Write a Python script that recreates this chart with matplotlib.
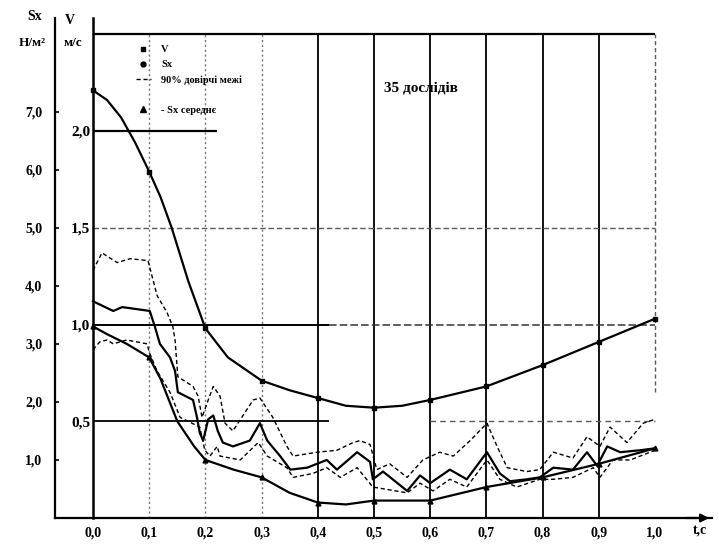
import matplotlib
matplotlib.use("Agg")
import matplotlib.pyplot as plt
from matplotlib.lines import Line2D
from matplotlib.ticker import FuncFormatter

plt.rcParams['font.family'] = ['Liberation Serif', 'DejaVu Serif']
plt.rcParams['font.weight'] = 'bold'

# ---------------- data ----------------
x_ticks = [0.0, 0.1, 0.2, 0.3, 0.4, 0.5, 0.6, 0.7, 0.8, 0.9, 1.0]
v_ticks = [0.5, 1.0, 1.5, 2.0]
sx_ticks = [1.0, 2.0, 3.0, 4.0, 5.0, 6.0, 7.0]
SX_PER_V = 3.336

# V (upper smooth curve)
v_t = [0, 0.025, 0.05, 0.075, 0.1, 0.12, 0.14, 0.17, 0.2, 0.24, 0.3, 0.35, 0.4, 0.45, 0.5, 0.55, 0.6, 0.7, 0.8, 0.9, 1.0]
v_val = [2.21, 2.16, 2.07, 1.94, 1.79, 1.66, 1.50, 1.22, 0.98, 0.83, 0.71, 0.66, 0.62, 0.58, 0.57, 0.58, 0.61, 0.68, 0.79, 0.91, 1.03]
v_marks = [0, 4, 8, 10, 12, 14, 16, 17, 18, 19, 20]

# Sx mean (lower smooth curve)
m_t = [0, 0.025, 0.06, 0.1, 0.12, 0.15, 0.18, 0.2, 0.25, 0.3, 0.35, 0.4, 0.45, 0.5, 0.6, 0.7, 0.8, 0.9, 1.0]
m_val = [0.99, 0.95, 0.90, 0.83, 0.72, 0.50, 0.37, 0.30, 0.25, 0.21, 0.13, 0.08, 0.07, 0.09, 0.09, 0.16, 0.21, 0.28, 0.36]
m_marks = [0, 3, 7, 9, 11, 13, 14, 15, 16, 17, 18]

# Sx (wiggly solid)
s_t = [0, 0.036, 0.052, 0.101, 0.110, 0.119, 0.137, 0.146, 0.151, 0.178, 0.185, 0.190, 0.196,
       0.205, 0.214, 0.222, 0.231, 0.249, 0.279, 0.297, 0.310, 0.333, 0.351, 0.381, 0.416, 0.434,
       0.470, 0.493, 0.498, 0.516, 0.559, 0.582, 0.600, 0.635, 0.665, 0.701, 0.724, 0.742, 0.772,
       0.795, 0.819, 0.854, 0.879, 0.897, 0.915, 0.938, 0.973, 1.0]
s_val = [1.12, 1.07, 1.09, 1.07, 0.99, 0.90, 0.83, 0.76, 0.65, 0.61, 0.52, 0.44, 0.40,
         0.51, 0.53, 0.45, 0.39, 0.37, 0.40, 0.49, 0.40, 0.32, 0.25, 0.26, 0.30, 0.25,
         0.34, 0.29, 0.20, 0.24, 0.14, 0.22, 0.18, 0.25, 0.20, 0.34, 0.23, 0.19, 0.20,
         0.21, 0.26, 0.25, 0.34, 0.27, 0.37, 0.34, 0.35, 0.36]

# 90% confidence bounds (dashed)
up_t = [0.0, 0.016, 0.043, 0.066, 0.098, 0.105, 0.114, 0.132, 0.142, 0.146, 0.151, 0.178, 0.187,
        0.194, 0.205, 0.214, 0.226, 0.235, 0.249, 0.285, 0.297, 0.320, 0.345, 0.356, 0.399, 0.434,
        0.463, 0.475, 0.493, 0.505, 0.528, 0.559, 0.587, 0.617, 0.641, 0.671, 0.701, 0.719, 0.737,
        0.772, 0.795, 0.819, 0.854, 0.879, 0.902, 0.920, 0.950, 0.979, 1.0]
up_val = [1.28, 1.37, 1.32, 1.34, 1.33, 1.25, 1.15, 1.06, 0.99, 0.92, 0.73, 0.68, 0.63,
          0.52, 0.61, 0.68, 0.63, 0.49, 0.45, 0.61, 0.62, 0.52, 0.37, 0.32, 0.34, 0.35,
          0.39, 0.40, 0.38, 0.25, 0.28, 0.21, 0.30, 0.34, 0.32, 0.40, 0.49, 0.37, 0.26,
          0.24, 0.25, 0.34, 0.31, 0.42, 0.37, 0.47, 0.39, 0.49, 0.51]
lo_t = [0.0, 0.012, 0.025, 0.036, 0.06, 0.096, 0.101, 0.114, 0.137, 0.155, 0.190, 0.199, 0.208,
        0.221, 0.226, 0.262, 0.294, 0.310, 0.345, 0.356, 0.391, 0.416, 0.440, 0.470, 0.498, 0.559,
        0.582, 0.605, 0.635, 0.665, 0.701, 0.724, 0.754, 0.795, 0.819, 0.854, 0.890, 0.902, 0.925,
        0.956, 1.0]
lo_val = [0.87, 0.91, 0.92, 0.90, 0.92, 0.90, 0.85, 0.76, 0.65, 0.52, 0.47, 0.35, 0.32,
          0.37, 0.32, 0.30, 0.39, 0.32, 0.26, 0.21, 0.23, 0.26, 0.21, 0.26, 0.16, 0.13,
          0.18, 0.14, 0.20, 0.16, 0.30, 0.20, 0.16, 0.20, 0.20, 0.21, 0.26, 0.21, 0.30,
          0.30, 0.35]

legend_labels = ["V", "Sx", "90% довірчі межі", " ", "- Sx середнє"]
title_text = "35 дослідів"

# ---------------- figure ----------------
W, H = 719, 545
fig = plt.figure(figsize=(W / 100, H / 100), dpi=100)
fig.patch.set_facecolor('white')
ax = fig.add_axes([55 / W, (H - 518) / H, (712 - 55) / W, 500 / H])
ax.set_xlim(-0.0676, 1.1014)
ax.set_ylim(0, 2.584)

comma = FuncFormatter(lambda v, p: f"{v:.1f}".replace('.', ','))

# spines
for s in ['top', 'right']:
    ax.spines[s].set_visible(False)
ax.spines['left'].set_position(('data', 0))
ax.spines['left'].set_linewidth(1.8)
ax.spines['bottom'].set_linewidth(1.6)

ax.set_xticks(x_ticks)
ax.xaxis.set_major_formatter(comma)
ax.tick_params(axis='x', length=0, pad=6, labelsize=10)
ax.set_yticks(v_ticks)
ax.yaxis.set_major_formatter(comma)
ax.tick_params(axis='y', length=0, pad=2, labelsize=11)

sec = ax.secondary_yaxis(0.0, functions=(lambda v: v * SX_PER_V, lambda s: s / SX_PER_V))
sec.set_yticks(sx_ticks)
sec.yaxis.set_major_formatter(comma)
sec.tick_params(axis='y', direction='in', length=3, width=1.2, pad=9, labelsize=10)
sec.spines['left'].set_linewidth(1.6)

# arrow on time axis
ax.annotate('', xy=(1.1014, 0), xytext=(1.05, 0), xycoords='data',
            arrowprops=dict(arrowstyle='-|>', color='black', lw=1.6, mutation_scale=12),
            annotation_clip=False)

# grid
for t in x_ticks[1:]:
    if t in (0.1, 0.2, 0.3):
        ax.vlines(t, 0, 2.5, colors='0.45', linestyles=(0, (1.5, 2)), lw=1.0)
    elif t == 1.0:
        ax.vlines(t, 0.65, 2.5, colors='0.35', linestyles=(0, (3, 2)), lw=1.0)
    else:
        ax.vlines(t, 0, 2.5, colors='black', lw=1.3)
ax.hlines(2.5, 0, 1.0, colors='black', lw=1.6)
ax.hlines(2.0, 0, 0.22, colors='black', lw=1.6)
ax.hlines(1.5, 0, 1.0, colors='0.35', linestyles=(0, (4, 2)), lw=1.0)
ax.hlines(1.0, 0, 0.42, colors='black', lw=1.4)
ax.hlines(1.0, 0.42, 1.0, colors='0.2', linestyles=(0, (5, 2)), lw=1.1)
ax.hlines(0.5, 0, 0.42, colors='black', lw=1.3)
ax.hlines(0.5, 0.6, 1.0, colors='0.35', linestyles=(0, (4, 3)), lw=1.0)

# curves
ax.plot(v_t, v_val, color='black', lw=1.6, marker='s', markersize=3.5, markevery=v_marks, zorder=4)
ax.plot(m_t, m_val, color='black', lw=1.6, marker='^', markersize=3.5, markevery=m_marks, zorder=4)
ax.plot(s_t, s_val, color='black', lw=1.6, zorder=4)
ax.plot(up_t, up_val, color='black', lw=1.0, linestyle=(0, (3, 2)), zorder=3)
ax.plot(lo_t, lo_val, color='black', lw=1.0, linestyle=(0, (3, 2)), zorder=3)

# legend
handles = [
    Line2D([], [], color='black', marker='s', markersize=3.5, linestyle='none'),
    Line2D([], [], color='black', marker='o', markersize=3.5, linestyle='none'),
    Line2D([], [], color='black', linestyle=(0, (3, 2)), lw=1.0),
    Line2D([], [], linestyle='none'),
    Line2D([], [], color='black', marker='^', markersize=4, linestyle='none'),
]
leg = ax.legend(handles, legend_labels, loc='upper left', bbox_to_anchor=(136 / W, 1 - 45 / H),
                bbox_transform=fig.transFigure, frameon=False, fontsize=7.5,
                handlelength=1.4, handletextpad=1.0, labelspacing=0.55, borderpad=0, borderaxespad=0)

# title
ax.text(0.584, 2.22, title_text, ha='center', va='center', fontsize=11, fontweight='bold')

# axis labels
fig.text(35 / W, 1 - 17 / H, "Sx", ha='center', va='center', fontsize=10)
fig.text(32 / W, 1 - 43 / H, "Н/м²", ha='center', va='center', fontsize=9.5)
fig.text(70 / W, 1 - 20 / H, "V", ha='center', va='center', fontsize=10)
fig.text(73 / W, 1 - 43 / H, "м/с", ha='center', va='center', fontsize=9.5)
fig.text(700 / W, 1 - 530 / H, "t,c", ha='center', va='center', fontsize=10)

fig.savefig("out.png", dpi=100, facecolor='white')
